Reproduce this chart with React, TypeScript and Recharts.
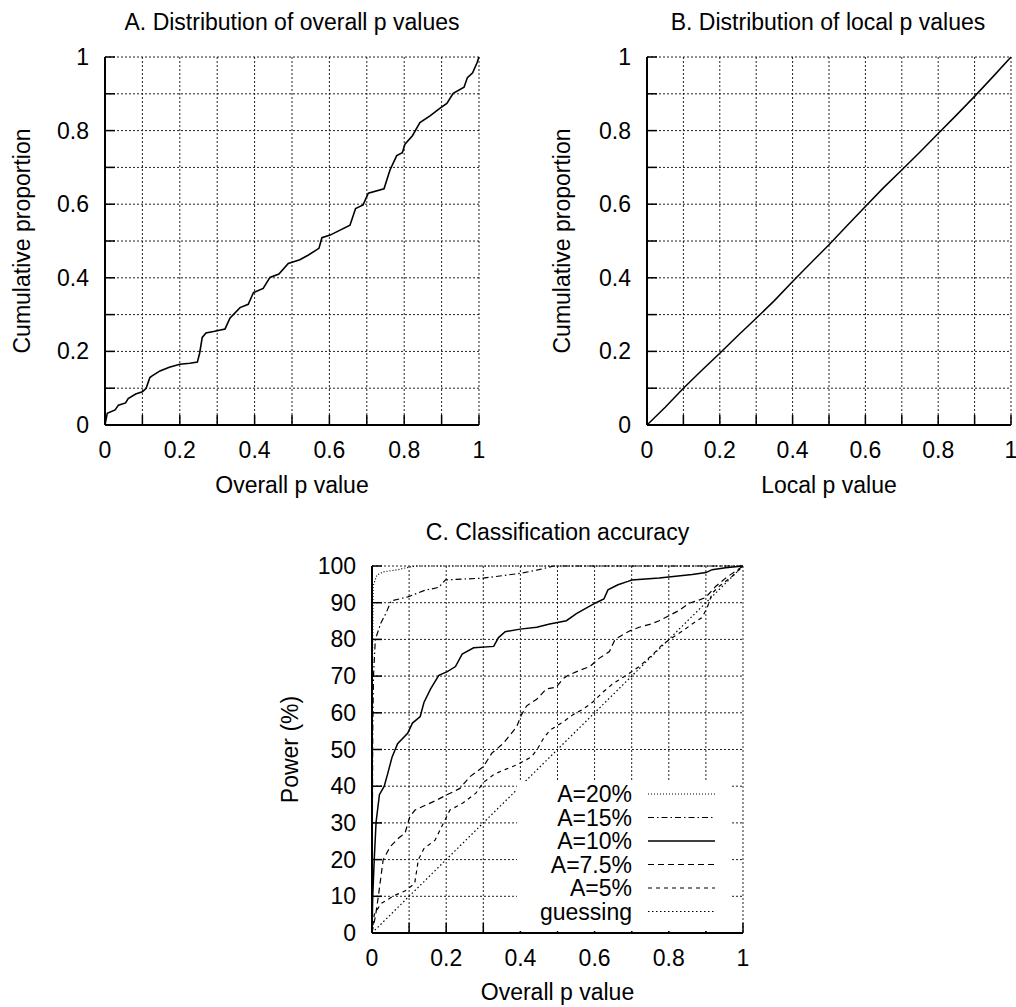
import { LineChart, Line, XAxis, YAxis, CartesianGrid, Legend } from 'recharts'

const FONT = '"Liberation Sans", Arial, Helvetica, sans-serif'
const FS = 23
const TICK_LEN = 10

// axis ticks (grid every tick, labels only where listed)
const pTicks = [0, 0.1, 0.2, 0.3, 0.4, 0.5, 0.6, 0.7, 0.8, 0.9, 1]
const pLabels = [0, 0.2, 0.4, 0.6, 0.8, 1]
const powerTicks = [0, 10, 20, 30, 40, 50, 60, 70, 80, 90, 100]

// A. cumulative distribution of overall p values
const overallP = [0, 0.006, 0.027, 0.036, 0.055, 0.062, 0.082, 0.1, 0.11, 0.12, 0.125, 0.147, 0.172, 0.2, 0.227, 0.247, 0.253, 0.26, 0.27, 0.29, 0.321, 0.334, 0.361, 0.383, 0.397, 0.423, 0.441, 0.465, 0.49, 0.521, 0.544, 0.572, 0.58, 0.602, 0.655, 0.67, 0.69, 0.704, 0.746, 0.762, 0.78, 0.795, 0.802, 0.822, 0.842, 0.869, 0.896, 0.914, 0.931, 0.96, 0.969, 0.983, 0.995, 1]
const overallCum = [0, 0.032, 0.041, 0.054, 0.06, 0.072, 0.084, 0.09, 0.1, 0.129, 0.133, 0.147, 0.157, 0.165, 0.168, 0.171, 0.195, 0.238, 0.25, 0.254, 0.261, 0.29, 0.319, 0.328, 0.36, 0.371, 0.401, 0.41, 0.439, 0.449, 0.462, 0.48, 0.509, 0.516, 0.543, 0.588, 0.598, 0.63, 0.642, 0.693, 0.732, 0.74, 0.763, 0.786, 0.822, 0.84, 0.861, 0.874, 0.901, 0.918, 0.944, 0.957, 0.985, 1]

// B. cumulative distribution of local p values
const localP = [0, 0.05, 0.1, 0.15, 0.2, 0.25, 0.3, 0.35, 0.4, 0.45, 0.5, 0.55, 0.6, 0.65, 0.7, 0.75, 0.8, 0.85, 0.9, 0.95, 1]
const localCum = [0, 0.048, 0.1, 0.148, 0.195, 0.243, 0.29, 0.338, 0.39, 0.44, 0.49, 0.542, 0.594, 0.645, 0.693, 0.742, 0.792, 0.842, 0.893, 0.946, 1]

// C. power (%) against overall p value
const a20P = [0, 0.001, 0.003, 0.013, 0.03, 0.07, 0.1, 0.12, 1]
const a20Pow = [0, 70, 94.5, 97.5, 98.4, 99, 99.7, 100, 100]
const a15P = [0, 0.002, 0.004, 0.009, 0.024, 0.037, 0.052, 0.097, 0.14, 0.18, 0.198, 0.3, 0.4, 0.45, 0.49, 1]
const a15Pow = [0, 55, 70, 80, 84.5, 87, 90.5, 91.6, 93.3, 94.2, 96.2, 96.7, 98, 99, 100, 100]
const a10P = [0, 0.002, 0.006, 0.011, 0.02, 0.033, 0.042, 0.054, 0.069, 0.096, 0.109, 0.13, 0.14, 0.158, 0.18, 0.203, 0.225, 0.243, 0.274, 0.328, 0.341, 0.359, 0.399, 0.444, 0.479, 0.524, 0.551, 0.582, 0.604, 0.625, 0.636, 0.663, 0.69, 0.7, 0.774, 0.863, 0.9, 0.917, 0.953, 1]
const a10Pow = [0, 10, 20, 30.2, 37.7, 40, 43.3, 47.9, 51.6, 54.4, 57.2, 59, 62.8, 66.5, 70.2, 71.2, 72.6, 76, 77.7, 78.1, 80.5, 82.1, 82.8, 83.3, 84.2, 85.1, 87, 88.8, 90, 91, 93.5, 94.9, 95.8, 96.2, 96.7, 97.7, 98.2, 99, 99.5, 100]
const a75P = [0, 0.004, 0.01, 0.017, 0.03, 0.049, 0.071, 0.089, 0.102, 0.116, 0.174, 0.201, 0.237, 0.264, 0.3, 0.323, 0.354, 0.39, 0.403, 0.417, 0.444, 0.47, 0.497, 0.515, 0.529, 0.56, 0.587, 0.613, 0.64, 0.655, 0.694, 0.72, 0.752, 0.774, 0.801, 0.828, 0.854, 0.881, 0.899, 0.926, 0.953, 1]
const a75Pow = [0, 2, 5, 9.9, 19.9, 23.5, 25.8, 27.2, 31.7, 33.5, 36.2, 37.6, 39.4, 42.6, 45.3, 49, 51.7, 56.2, 59.5, 61.9, 63.7, 66.5, 67, 69.3, 70.2, 71.6, 72.6, 74.9, 76.7, 80, 82.3, 83.3, 84.2, 85.1, 86.5, 87.9, 89.8, 90.7, 91.4, 94.4, 96.7, 100]
const a5P = [0, 0.006, 0.024, 0.06, 0.09, 0.115, 0.125, 0.14, 0.17, 0.2, 0.21, 0.246, 0.28, 0.3, 0.33, 0.36, 0.39, 0.43, 0.445, 0.462, 0.48, 0.515, 0.542, 0.569, 0.596, 0.622, 0.649, 0.685, 0.72, 0.756, 0.783, 0.81, 0.837, 0.863, 0.89, 0.904, 0.917, 0.935, 0.971, 1]
const a5Pow = [0, 5, 8, 10.2, 11.5, 13.5, 20, 23, 25.3, 31.5, 33.5, 35.5, 38.1, 41, 43.3, 44.6, 45.8, 48, 50, 53, 55.3, 57.5, 59.5, 61, 63, 65.6, 67.9, 70.2, 72.6, 75.8, 78.6, 80.5, 82.3, 84.2, 86, 88.8, 92.6, 94.4, 97.2, 100]
const guessP = [0, 1]
const guessPow = [0, 100]

const zip = (xs: number[], ys: number[]) => xs.map((x, i) => ({ x, y: ys[i] }))

const accuracySeries = [
  { name: 'A=20%', data: zip(a20P, a20Pow), dash: '1 2', width: 1.2 },
  { name: 'A=15%', data: zip(a15P, a15Pow), dash: '6 3 1.5 3', width: 1.2 },
  { name: 'A=10%', data: zip(a10P, a10Pow), dash: undefined, width: 1.5 },
  { name: 'A=7.5%', data: zip(a75P, a75Pow), dash: '6 4', width: 1.2 },
  { name: 'A=5%', data: zip(a5P, a5Pow), dash: '4 4', width: 1.2 },
  { name: 'guessing', data: zip(guessP, guessPow), dash: '1.5 2.5', width: 1.2 },
]

// panel titles: text, centre x, baseline y
const titles = [
  { text: 'A. Distribution of overall p values', x: 292, y: 29.5 },
  { text: 'B. Distribution of local p values', x: 828, y: 29.5 },
  { text: 'C. Classification accuracy', x: 557.5, y: 540 },
]

const fmt = (v: number) => String(Number(v.toFixed(2)))
const frame = { stroke: '#000', strokeWidth: 2 }
const textStyle = { fontSize: FS, fill: '#000', fontFamily: FONT }

function BottomTick({ x, y, payload, labels }: any) {
  const v = payload.value
  return (
    <g>
      <line x1={x} x2={x} y1={y} y2={y - TICK_LEN} stroke="#000" strokeWidth={1.5} />
      {labels.includes(v) && (
        <text x={x} y={y + 25} textAnchor="middle" dominantBaseline="central" style={textStyle}>{fmt(v)}</text>
      )}
    </g>
  )
}

function TopTick({ x, y }: any) {
  return <line x1={x} x2={x} y1={y} y2={y + TICK_LEN} stroke="#000" strokeWidth={1.5} />
}

function LeftTick({ x, y, payload, labels }: any) {
  const v = payload.value
  return (
    <g>
      <line x1={x} x2={x + TICK_LEN} y1={y} y2={y} stroke="#000" strokeWidth={1.5} />
      {labels.includes(v) && (
        <text x={x - 16} y={y} textAnchor="end" dominantBaseline="central" style={textStyle}>{fmt(v)}</text>
      )}
    </g>
  )
}

function RightTick({ x, y }: any) {
  return <line x1={x - TICK_LEN} x2={x} y1={y} y2={y} stroke="#000" strokeWidth={1.5} />
}

function KeyBox() {
  return (
    <svg width={213} height={150} style={{ display: 'block' }}>
      {accuracySeries.map((s, i) => {
        const cy = 13 + i * 23.5
        return (
          <g key={s.name}>
            <text x={115} y={cy} textAnchor="end" dominantBaseline="central" style={textStyle}>{s.name}</text>
            <line x1={131} x2={198} y1={cy} y2={cy} stroke="#000" strokeWidth={s.width} strokeDasharray={s.dash} />
          </g>
        )
      })}
    </svg>
  )
}

function Panel({ width, height, margin, yWidth, xHeight, yDomain, yTicks, yLabels, xLabel, yLabel, yLabelOffset, children }: any) {
  return (
    <LineChart width={width} height={height} margin={margin}>
      <CartesianGrid stroke="#222" strokeDasharray="2 2" />
      <XAxis
        dataKey="x" type="number" domain={[0, 1]} ticks={pTicks} interval={0}
        height={xHeight} tickSize={0} tickMargin={0} axisLine={frame}
        tick={(p: any) => <BottomTick {...p} labels={pLabels} />}
        label={{ value: xLabel, position: 'insideBottom', offset: 7, style: textStyle }}
      />
      <XAxis
        xAxisId="top" orientation="top" dataKey="x" type="number" domain={[0, 1]} ticks={pTicks} interval={0}
        height={0} tickSize={0} tickMargin={0} axisLine={frame}
        tick={(p: any) => <TopTick {...p} />}
      />
      <YAxis
        type="number" domain={yDomain} ticks={yTicks} interval={0}
        width={yWidth} tickSize={0} tickMargin={0} axisLine={frame}
        tick={(p: any) => <LeftTick {...p} labels={yLabels} />}
        label={{ value: yLabel, angle: -90, position: 'insideLeft', offset: yLabelOffset, style: { ...textStyle, textAnchor: 'middle' } }}
      />
      <YAxis
        yAxisId="right" orientation="right" type="number" domain={yDomain} ticks={yTicks} interval={0}
        width={0} tickSize={0} tickMargin={0} axisLine={frame}
        tick={(p: any) => <RightTick {...p} />}
      />
      {children}
    </LineChart>
  )
}

export default function App() {
  return (
    <div style={{ position: 'absolute', left: 0, top: 0, width: 1016, height: 1007, background: '#fff', fontFamily: FONT, overflow: 'hidden' }}>
      <div style={{ position: 'absolute', left: 0, top: 0 }}>
        <Panel
          width={500} height={500} margin={{ top: 57, right: 21, bottom: 0, left: 0 }}
          yWidth={105} xHeight={75} yDomain={[0, 1]} yTicks={pTicks} yLabels={pLabels}
          xLabel="Overall p value" yLabel="Cumulative proportion" yLabelOffset={22}
        >
          <Line data={zip(overallP, overallCum)} dataKey="y" name="overall" type="linear" stroke="#000" strokeWidth={1.6} dot={false} activeDot={false} isAnimationActive={false} />
        </Panel>
      </div>
      <div style={{ position: 'absolute', left: 516, top: 0 }}>
        <Panel
          width={500} height={500} margin={{ top: 57, right: 5, bottom: 0, left: 0 }}
          yWidth={131} xHeight={75} yDomain={[0, 1]} yTicks={pTicks} yLabels={pLabels}
          xLabel="Local p value" yLabel="Cumulative proportion" yLabelOffset={46}
        >
          <Line data={zip(localP, localCum)} dataKey="y" name="local" type="linear" stroke="#000" strokeWidth={1.5} dot={false} activeDot={false} isAnimationActive={false} />
        </Panel>
      </div>
      <div style={{ position: 'absolute', left: 250, top: 500 }}>
        <Panel
          width={510} height={507} margin={{ top: 66, right: 17, bottom: 0, left: 0 }}
          yWidth={122} xHeight={74} yDomain={[0, 100]} yTicks={powerTicks} yLabels={powerTicks}
          xLabel="Overall p value" yLabel="Power (%)" yLabelOffset={40}
        >
          {accuracySeries.map(s => (
            <Line
              key={s.name} data={s.data} dataKey="y" name={s.name} type="linear"
              stroke="#000" strokeWidth={s.width} strokeDasharray={s.dash}
              dot={false} activeDot={false} isAnimationActive={false}
            />
          ))}
          <Legend
            layout="vertical" align="center" verticalAlign="middle"
            wrapperStyle={{ left: 267, top: 281, width: 213, height: 150, backgroundColor: '#fff' }}
            content={() => <KeyBox />}
          />
        </Panel>
      </div>
      <svg width={1016} height={1007} style={{ position: 'absolute', left: 0, top: 0, pointerEvents: 'none' }}>
        {titles.map(t => (
          <text key={t.text} x={t.x} y={t.y} textAnchor="middle" style={textStyle}>{t.text}</text>
        ))}
      </svg>
    </div>
  )
}
